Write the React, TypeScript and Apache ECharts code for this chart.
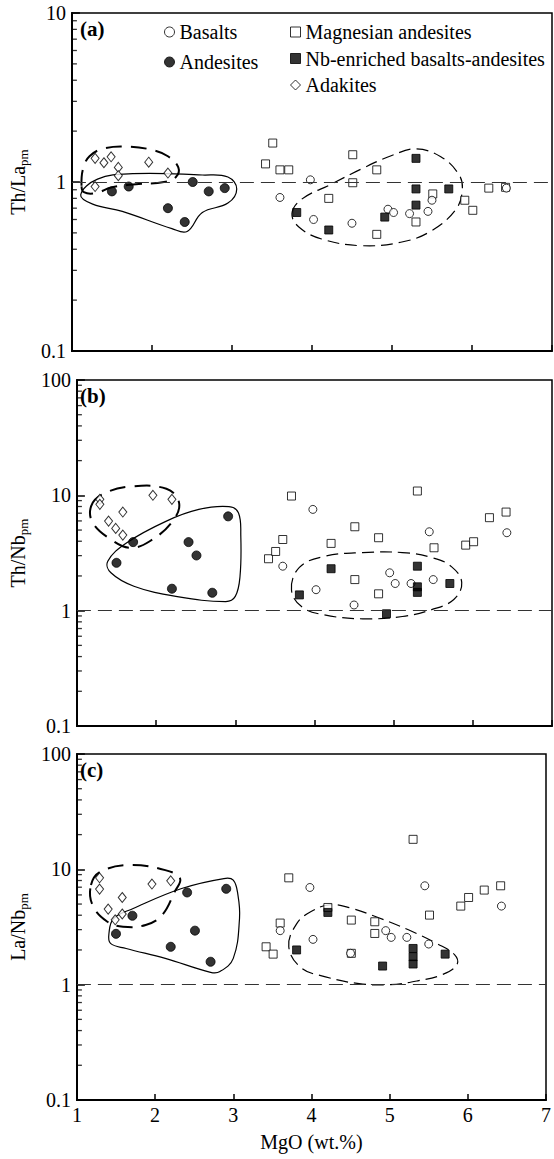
import React, { useEffect, useRef } from 'react';
import * as echarts from 'echarts';

const FONT = 'Liberation Serif, DejaVu Serif, serif';

// ---------- data (MgO wt.% vs primitive-mantle normalized ratios) ----------
const adakiteMgO = [1.29, 1.29, 1.40, 1.49, 1.58, 1.58, 1.96, 2.20];
const adakiteThLa = [1.38, 0.94, 1.30, 1.41, 1.22, 1.09, 1.31, 1.13];
const adakiteThNb = [9.23, 8.35, 5.98, 5.17, 7.16, 4.52, 10.0, 9.23];
const adakiteLaNb = [8.44, 6.74, 4.52, 3.65, 5.70, 4.10, 7.45, 7.95];

const andesiteMgO = [1.50, 1.71, 2.20, 2.41, 2.51, 2.71, 2.91];
const andesiteThLa = [0.88, 0.94, 0.70, 0.58, 1.00, 0.88, 0.92];
const andesiteThNb = [2.60, 3.93, 1.55, 3.93, 3.01, 1.43, 6.57];
const andesiteLaNb = [2.76, 3.96, 2.13, 6.30, 2.94, 1.58, 6.78];

const basaltMgO = [3.60, 3.98, 4.02, 4.50, 4.95, 5.02, 5.22, 5.45, 5.50, 6.43];
const basaltThLa = [0.81, 1.03, 0.60, 0.57, 0.69, 0.66, 0.65, 0.67, 0.78, 0.92];
const basaltThNb = [2.43, 7.55, 1.52, 1.12, 2.13, 1.72, 1.72, 4.83, 1.86, 4.74];
const basaltLaNb = [2.94, 6.96, 2.47, 1.87, 2.94, 2.57, 2.57, 7.20, 2.25, 4.80];

const magAndMgO = [3.42, 3.51, 3.60, 3.71, 4.21, 4.51, 4.51, 4.81, 4.81, 5.30, 5.51, 5.91, 6.01, 6.21, 6.42];
const magAndThLa = [1.28, 1.70, 1.18, 1.18, 0.80, 1.45, 0.99, 1.18, 0.49, 0.58, 0.85, 0.78, 0.68, 0.92, 0.93];
const magAndThNb = [2.82, 3.26, 4.14, 9.86, 3.83, 5.34, 1.86, 4.29, 1.40, 10.9, 3.51, 3.70, 3.96, 6.40, 7.16];
const magAndLaNb = [2.13, 1.84, 3.42, 8.44, 4.67, 3.63, 1.87, 3.51, 2.78, 18.2, 4.01, 4.80, 5.70, 6.61, 7.20];

const nbMgO = [3.81, 4.21, 4.91, 5.30, 5.30, 5.30, 5.71];
const nbThLa = [0.66, 0.52, 0.62, 1.38, 0.91, 0.73, 0.91];
const nbThNb = [1.37, 2.31, 0.94, 2.43, 1.61, 1.44, 1.72];
const nbLaNb = [2.00, 4.23, 1.45, 2.06, 1.75, 1.51, 1.84];

// field outlines (MgO, ratio)
const fieldAdakiteA = [[1.12, 0.95], [1.14, 1.2], [1.22, 1.42], [1.4, 1.58], [1.7, 1.62], [2.0, 1.55], [2.2, 1.42], [2.33, 1.22], [2.3, 1.07], [2.15, 1.0], [1.8, 0.97], [1.5, 0.93], [1.3, 0.86], [1.15, 0.87]];
const fieldAndesiteA = [[1.11, 0.84], [1.32, 1.04], [1.76, 1.12], [2.63, 1.10], [2.95, 1.07], [3.06, 0.91], [2.95, 0.75], [2.63, 0.66], [2.44, 0.51], [2.25, 0.53], [1.63, 0.67], [1.26, 0.74]];
const fieldBasaltA = [[3.75, 0.65], [3.87, 0.79], [4.24, 0.97], [4.61, 1.19], [4.99, 1.43], [5.30, 1.57], [5.61, 1.41], [5.83, 1.12], [5.88, 0.91], [5.80, 0.69], [5.48, 0.51], [5.11, 0.44], [4.61, 0.42], [4.12, 0.46], [3.84, 0.54]];

const fieldAdakiteB = [[1.18, 8.07], [1.32, 10.2], [1.67, 11.9], [2.13, 11.4], [2.29, 8.64], [2.21, 5.98], [1.92, 4.0], [1.67, 3.51], [1.43, 4.14], [1.20, 5.79]];
const fieldAndesiteB = [[1.39, 2.68], [1.63, 3.88], [2.13, 5.98], [2.54, 7.55], [2.92, 7.97], [3.04, 7.07], [3.07, 4.43], [3.06, 1.99], [3.0, 1.33], [2.88, 1.20], [2.25, 1.33], [1.72, 1.63], [1.43, 2.13]];
const fieldBasaltB = [[3.71, 1.52], [3.81, 2.37], [4.12, 2.95], [4.61, 3.19], [5.11, 3.19], [5.48, 2.89], [5.73, 2.41], [5.86, 1.75], [5.76, 1.25], [5.48, 1.02], [5.11, 0.89], [4.61, 0.85], [4.12, 0.92], [3.84, 1.08]];

const fieldAdakiteC = [[1.18, 7.30], [1.30, 9.51], [1.67, 10.9], [2.13, 9.84], [2.32, 8.32], [2.25, 6.38], [2.09, 4.01], [1.88, 3.29], [1.59, 3.18], [1.39, 3.51], [1.20, 4.90]];
const fieldAndesiteC = [[1.41, 2.78], [1.47, 3.75], [1.72, 4.58], [2.34, 6.82], [2.88, 8.32], [3.0, 8.06], [3.06, 5.98], [3.08, 3.75], [3.0, 1.69], [2.83, 1.30], [2.71, 1.28], [2.13, 1.69], [1.63, 2.06], [1.43, 2.28]];
const fieldBasaltC = [[3.71, 2.13], [3.81, 3.37], [3.99, 4.29], [4.24, 4.93], [4.49, 4.64], [4.86, 3.80], [5.24, 2.99], [5.61, 2.26], [5.83, 1.82], [5.86, 1.49], [5.67, 1.22], [5.36, 1.08], [4.99, 1.0], [4.61, 1.02], [4.18, 1.17], [3.87, 1.40]];

const xTicks = [1, 2, 3, 4, 5, 6, 7];
const minorTicksA = [0.2, 0.3, 0.4, 0.5, 0.6, 0.7, 0.8, 0.9, 2, 3, 4, 5, 6, 7, 8, 9];
const minorTicksBC = [...minorTicksA, 20, 30, 40, 50, 60, 70, 80, 90];

const panelLabels = ['(a)', '(b)', '(c)'];
const yNames = ['Th/La', 'Th/Nb', 'La/Nb'];
const yMax = [10, 100, 100];

const zip = (xs: number[], ys: number[]) => xs.map((x, i) => [x, ys[i]]);

const grids = [
  { left: 69, top: 13, width: 483, height: 338 },
  { left: 69, top: 380, width: 483, height: 346 },
  { left: 69, top: 754, width: 483, height: 346 },
];

const openStyle = { color: '#fff', borderColor: '#000', borderWidth: 1 };
const fillStyle = { color: '#000', borderColor: '#000', borderWidth: 1 };

function fieldSeries(pts: number[][], gi: number, dash: number[] | null, width: number) {
  return {
    type: 'custom',
    xAxisIndex: gi,
    yAxisIndex: gi,
    data: pts,
    silent: true,
    z: 2,
    clip: false,
    encode: { x: 0, y: 1 },
    renderItem: (params: any, api: any) => {
      if (params.dataIndex !== 0) return null;
      const points = pts.map((p) => api.coord(p));
      return {
        type: 'polygon',
        shape: { points, smooth: 0.4 },
        style: { fill: 'none', stroke: '#000', lineWidth: width, lineDash: dash || undefined },
      };
    },
  };
}

function App() {
  const ref = useRef<HTMLDivElement>(null);
  useEffect(() => {
    const chart = echarts.init(ref.current!, null, { renderer: 'svg' });

    const panelData = [
      { ad: adakiteThLa, an: andesiteThLa, ba: basaltThLa, ma: magAndThLa, nb: nbThLa, fields: [fieldAdakiteA, fieldAndesiteA, fieldBasaltA], minor: minorTicksA },
      { ad: adakiteThNb, an: andesiteThNb, ba: basaltThNb, ma: magAndThNb, nb: nbThNb, fields: [fieldAdakiteB, fieldAndesiteB, fieldBasaltB], minor: minorTicksBC },
      { ad: adakiteLaNb, an: andesiteLaNb, ba: basaltLaNb, ma: magAndLaNb, nb: nbLaNb, fields: [fieldAdakiteC, fieldAndesiteC, fieldBasaltC], minor: minorTicksBC },
    ];

    const series: any[] = [];
    panelData.forEach((p, gi) => {
      series.push({
        type: 'scatter', name: '_minor', xAxisIndex: gi, yAxisIndex: gi, silent: true, z: 1,
        symbol: 'rect', symbolSize: [5, 1.3], symbolOffset: [2.5, 0],
        itemStyle: { color: '#000' },
        data: p.minor.map((v) => [xTicks[0], v]),
        markLine: {
          silent: true, symbol: ['none', 'none'], label: { show: false },
          lineStyle: { type: [14, 7], color: '#333', width: 1 },
          data: [{ yAxis: 1 }],
        },
      });
      series.push(fieldSeries(p.fields[0], gi, [16, 9], 2));
      series.push(fieldSeries(p.fields[1], gi, null, 1.2));
      series.push(fieldSeries(p.fields[2], gi, [12, 6], 1.2));
      series.push({ type: 'scatter', name: 'Adakites', xAxisIndex: gi, yAxisIndex: gi, z: 3, symbol: 'diamond', symbolSize: [8, 10], itemStyle: openStyle, data: zip(adakiteMgO, p.ad) });
      series.push({ type: 'scatter', name: 'Andesites', xAxisIndex: gi, yAxisIndex: gi, z: 3, symbol: 'circle', symbolSize: 9, itemStyle: fillStyle, data: zip(andesiteMgO, p.an) });
      series.push({ type: 'scatter', name: 'Magnesian andesites', xAxisIndex: gi, yAxisIndex: gi, z: 3, symbol: 'rect', symbolSize: 8, itemStyle: openStyle, data: zip(magAndMgO, p.ma) });
      series.push({ type: 'scatter', name: 'Basalts', xAxisIndex: gi, yAxisIndex: gi, z: 4, symbol: 'circle', symbolSize: 8, itemStyle: openStyle, data: zip(basaltMgO, p.ba) });
      series.push({ type: 'scatter', name: 'Nb-enriched basalts-andesites', xAxisIndex: gi, yAxisIndex: gi, z: 4, symbol: 'rect', symbolSize: 8, itemStyle: fillStyle, data: zip(nbMgO, p.nb) });
    });

    const legendText = { fontFamily: FONT, fontSize: 20, color: '#000' };

    const option: any = {
      animation: false,
      backgroundColor: '#fff',
      textStyle: { fontFamily: FONT },
      grid: grids.map((g) => ({ ...g, show: true, borderColor: '#000', borderWidth: 1.5, backgroundColor: 'transparent' })),
      xAxis: grids.map((_, gi) => ({
        type: 'value', gridIndex: gi, min: 1, max: 7, interval: 1,
        axisLine: { show: true, onZero: false, lineStyle: { color: '#000', width: 2 } },
        axisTick: { show: true, inside: true, length: 6, lineStyle: { color: '#000', width: 1.5 } },
        axisLabel: { show: gi === 2, fontFamily: FONT, fontSize: 20, color: '#000', margin: 5 },
        splitLine: { show: false },
        name: gi === 2 ? 'MgO (wt.%)' : '',
        nameLocation: 'middle', nameGap: 32,
        nameTextStyle: { fontFamily: FONT, fontSize: 20, color: '#000' },
      })),
      yAxis: grids.map((_, gi) => ({
        type: 'log', logBase: 10, gridIndex: gi, min: 0.1, max: yMax[gi],
        axisLine: { show: true, lineStyle: { color: '#000', width: 2 } },
        axisTick: { show: true, inside: true, length: 8, lineStyle: { color: '#000', width: 1.5 } },
        axisLabel: { fontFamily: FONT, fontSize: 20, color: '#000', margin: 6, formatter: (v: number) => String(+v.toPrecision(3)) },
        splitLine: { show: false },
        minorTick: { show: false },
        name: `{a|${yNames[gi]}}{b|pm}`,
        nameLocation: 'middle', nameGap: 27, nameRotate: 90,
        nameTextStyle: {
          color: '#000',
          fontFamily: FONT,
          rich: {
            a: { fontFamily: FONT, fontSize: 20, color: '#000' },
            b: { fontFamily: FONT, fontSize: 13, color: '#000', padding: [11, 0, 0, 0] },
          },
        },
      })),
      legend: [
        {
          orient: 'vertical', left: 159, top: 17, itemGap: 10, itemWidth: 10, itemHeight: 10,
          textStyle: legendText, selectedMode: false,
          data: [
            { name: 'Basalts', icon: 'circle', itemStyle: openStyle },
            { name: 'Andesites', icon: 'circle', itemStyle: fillStyle },
          ],
        },
        {
          orient: 'vertical', left: 285, top: 17, itemGap: 6.5, itemWidth: 10, itemHeight: 10,
          textStyle: legendText, selectedMode: false,
          data: [
            { name: 'Magnesian andesites', icon: 'rect', itemStyle: openStyle },
            { name: 'Nb-enriched basalts-andesites', icon: 'rect', itemStyle: fillStyle },
            { name: 'Adakites', icon: 'diamond', itemStyle: openStyle },
          ],
        },
      ],
      graphic: grids.map((g, gi) => ({
        type: 'text', left: g.left + 11, top: g.top + 5,
        style: { text: panelLabels[gi], fontFamily: FONT, fontSize: 21, fontWeight: 'bold', fill: '#000' },
      })),
      series,
    };

    chart.setOption(option);
    return () => chart.dispose();
  }, []);
  return <div ref={ref} style={{ position: 'absolute', left: 0, top: 0, width: 554, height: 1159, background: '#fff' }} />;
}

export default App;
